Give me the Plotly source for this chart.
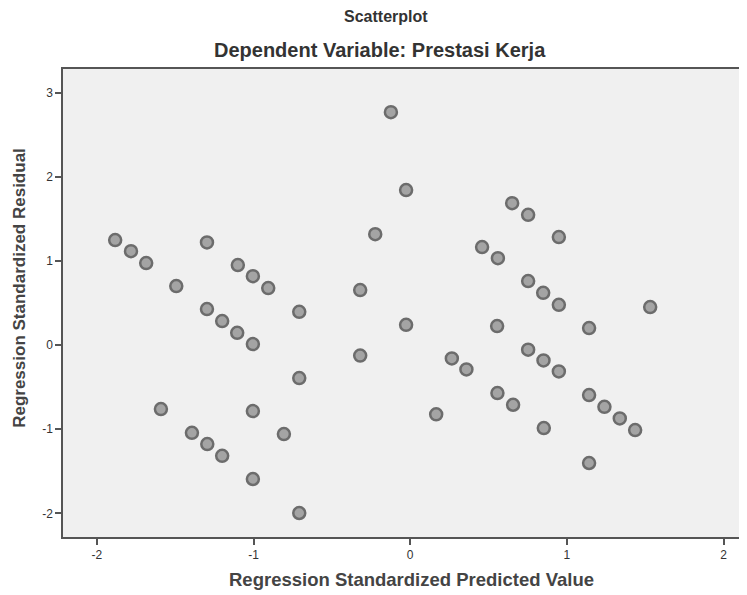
import plotly.graph_objects as go

# Regression standardized predicted values (x) and residuals (y)
predicted = [
    -1.883, -1.782, -1.685, -1.493, -1.297, -1.297, -1.200, -1.104, -1.004, -1.100,
    -1.004, -0.906, -0.708, -0.708, -1.591, -1.393, -1.295, -1.200, -1.004, -0.806,
    -1.004, -0.708, -0.319, -0.319, -0.223, -0.123, -0.026, -0.026, 0.166, 0.266,
    0.359, 0.459, 0.560, 0.555, 0.557, 0.657, 0.651, 0.753, 0.753, 0.753,
    0.849, 0.851, 0.853, 0.949, 0.949, 0.949, 1.142, 1.142, 1.142, 1.240,
    1.338, 1.436, 1.532,
]
residual = [
    1.247, 1.116, 0.974, 0.701, 1.220, 0.428, 0.285, 0.146, 0.012, 0.950,
    0.819, 0.677, 0.395, -0.392, -0.760, -1.042, -1.176, -1.315, -0.784, -1.057,
    -1.591, -1.995, 0.653, -0.125, 1.318, 2.767, 1.841, 0.241, -0.823, -0.158,
    -0.289, 1.164, 1.033, 0.226, -0.570, -0.709, 1.686, 1.548, 0.760, -0.055,
    0.621, -0.182, -0.986, 1.283, 0.479, -0.313, 0.202, -0.594, -1.401, -0.733,
    -0.871, -1.009, 0.451,
]
tick_vals_x = [-2, -1, 0, 1, 2]
tick_text_x = ["-2", "-1", "0", "1", "2"]
tick_vals_y = [-2, -1, 0, 1, 2, 3]
tick_text_y = ["-2", "-1", "0", "1", "2", "3"]

title_1 = "Scatterplot"
title_2 = "Dependent Variable: Prestasi Kerja"
x_title = "Regression Standardized Predicted Value"
y_title = "Regression Standardized Residual"

# page has an 8px body margin; figure sized to fit the window
OFF = 8
W, H = 747 - OFF, 595 - OFF
L, T, R = 62.7 - OFF, 69 - OFF, 0
B = H - (537 - OFF)
pw = W - L - R
ph = H - T - B

def px(xp):
    return (xp - OFF - L) / pw

def py(yp):
    return (H - B - (yp - OFF)) / ph

FONT = "Liberation Sans, Arial, sans-serif"

fig = go.Figure()
fig.add_trace(go.Scatter(
    x=predicted, y=residual, mode="markers",
    marker=dict(symbol="circle", size=12, color="#a4a4a4",
                line=dict(width=2.5, color="#6c6c6c")),
    hoverinfo="x+y", showlegend=False,
))

axis_common = dict(
    showgrid=False, zeroline=False, showline=True, linecolor="#555555", linewidth=1.5,
    ticks="outside", ticklen=6, tickwidth=1.5, tickcolor="#555555",
    tickfont=dict(family=FONT, size=12, color="#333333"),
)
fig.update_layout(
    width=W, height=H,
    margin=dict(l=L, r=R, t=T, b=B, pad=0),
    paper_bgcolor="white", plot_bgcolor="#f0f0f0",
    xaxis=dict(range=[-2.216, 2.15], tickvals=tick_vals_x, ticktext=tick_text_x,
               mirror=True, **axis_common),
    yaxis=dict(range=[-2.28, 3.28], tickvals=tick_vals_y, ticktext=tick_text_y,
               mirror=False, **axis_common),
    annotations=[
        dict(text="<b>%s</b>" % title_1, x=px(386), y=py(17), xref="paper", yref="paper",
             showarrow=False, xanchor="center", yanchor="middle",
             font=dict(family=FONT, size=16, color="#333333")),
        dict(text="<b>%s</b>" % title_2, x=px(380), y=py(50), xref="paper", yref="paper",
             showarrow=False, xanchor="center", yanchor="middle",
             font=dict(family=FONT, size=20, color="#333333")),
        dict(text="<b>%s</b>" % x_title, x=px(411), y=py(579), xref="paper", yref="paper",
             showarrow=False, xanchor="center", yanchor="middle",
             font=dict(family=FONT, size=18.5, color="#444444")),
        dict(text="<b>%s</b>" % y_title, x=px(18.5), y=py(288), xref="paper", yref="paper",
             showarrow=False, xanchor="center", yanchor="middle", textangle=-90,
             font=dict(family=FONT, size=17, color="#444444")),
    ],
)

fig.write_html("out.html")
